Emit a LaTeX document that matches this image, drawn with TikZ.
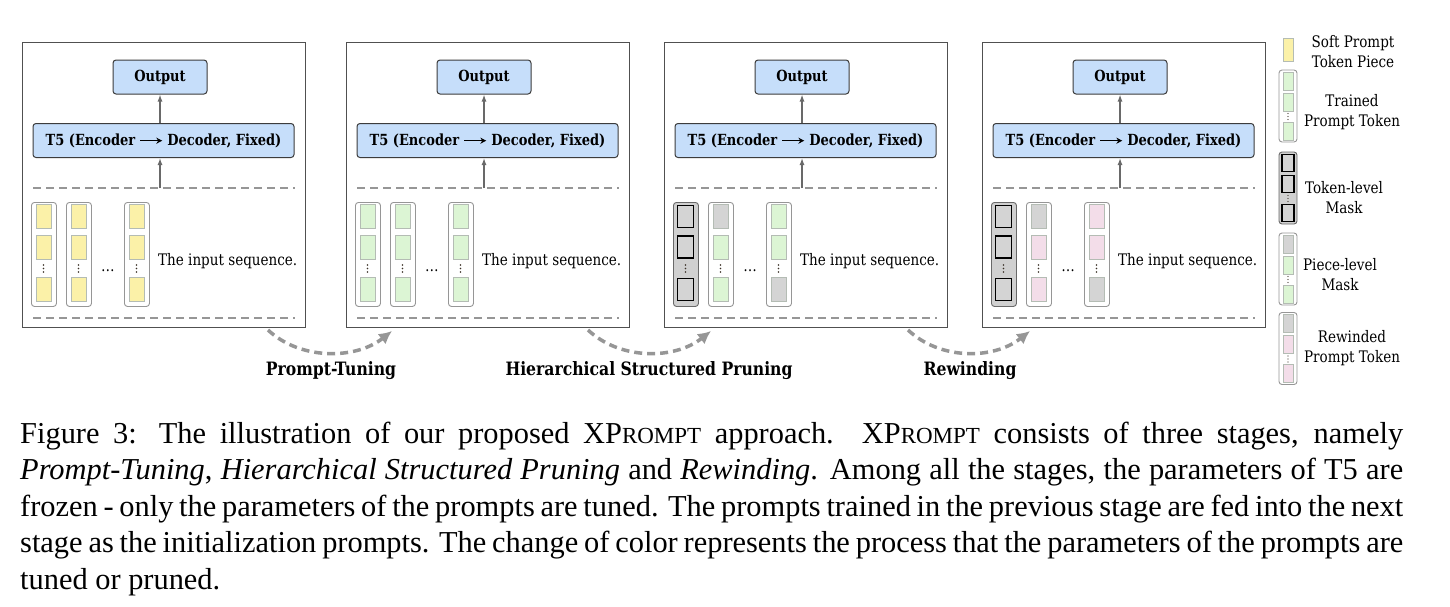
\documentclass[tikz,border=0pt]{standalone}
\usepackage{fontspec}
\setmainfont{DejaVu Serif}[FakeStretch=0.85]
\newfontfamily\capfont{Liberation Serif}
\usetikzlibrary{arrows.meta,calc}

\definecolor{panelline}{RGB}{80,80,80}
\definecolor{boxline}{RGB}{60,60,60}
\definecolor{blue1}{RGB}{198,222,250}
\definecolor{sepgray}{RGB}{150,150,150}
\definecolor{arrgray}{RGB}{105,105,105}
\definecolor{stagegray}{RGB}{150,150,150}
\definecolor{colline}{RGB}{150,150,150}
\definecolor{maskline}{RGB}{105,105,105}
\definecolor{maskfill}{RGB}{208,208,208}
\definecolor{pieceline}{RGB}{180,188,180}
\definecolor{softyellow}{RGB}{251,241,168}
\definecolor{softgreen}{RGB}{220,245,212}
\definecolor{softpink}{RGB}{243,221,233}
\definecolor{softgray}{RGB}{212,212,212}
\definecolor{dotcol}{RGB}{60,50,40}

\newcommand\encarrow{\tikz[baseline=-0.55ex]\draw[line width=1.1pt,-{Stealth[length=6pt,width=6pt]}] (0pt,0pt) -- (22pt,0pt);}
\newcommand\xprompt{XP{\fontsize{23}{36.5}\selectfont ROMPT}}

\tikzset{
  panelbox/.style={draw=panelline, line width=1.2pt, fill=white, inner sep=0pt},
  bluebox/.style={draw=boxline, fill=blue1, rounded corners=3pt, line width=1pt, inner sep=0pt,
    font=\bfseries\fontsize{15.3}{17}\selectfont},
  sepline/.style={draw=sepgray, line width=1.3pt, dash pattern=on 8pt off 5pt},
  uparrow/.style={draw=arrgray, line width=1.3pt, -{Latex[length=7pt,width=5pt]}},
  stagearrow/.style={draw=stagegray, line width=3.5pt, dash pattern=on 8pt off 5pt, -{Latex[length=13pt,width=13pt]}},
  tokcolbox/.style={draw=colline, fill=white, rounded corners=3pt, line width=0.9pt,
    minimum width=25pt, minimum height=104pt, inner sep=0pt},
  maskcolbox/.style={tokcolbox, draw=maskline, fill=maskfill},
  piece/.style={draw=pieceline, line width=0.8pt, minimum width=15pt, minimum height=24pt, inner sep=0pt},
  ypiece/.style={piece, fill=softyellow},
  gpiece/.style={piece, fill=softgreen},
  ppiece/.style={piece, fill=softpink},
  xpiece/.style={piece, fill=softgray},
  mpiece/.style={piece, fill=softgray, draw=black, line width=1.2pt, minimum width=16pt, minimum height=22pt},
  lsize/.style={minimum width=10pt, minimum height=18pt},
  lmsize/.style={minimum width=12pt, minimum height=17pt},
  lcol/.style={minimum width=18pt, minimum height=72pt},
  plaintext/.style={font=\fontsize{15.9}{20}\selectfont, inner sep=0pt},
  legtext/.style={font=\fontsize{15.9}{20}\selectfont, inner sep=0pt, align=center},
  stagelabel/.style={font=\bfseries\fontsize{18.4}{21}\selectfont, inner sep=0pt},
  vdot/.style={circle, fill=dotcol, inner sep=0pt, minimum size=1.6pt},
}

% token column: #1 left x, #2 name, #3 column style, #4-#6 piece styles
\newcommand\tokcol[6]{%
  \node[#3, anchor=north west] (#2) at (#1,202) {};
  \node[#4] (#2a) at ({#1+12.5},216.5) {};
  \node[#5] (#2b) at ({#1+12.5},247) {};
  \node[#6] (#2c) at ({#1+12.5},289.5) {};
  \node[vdot] (#2d1) at ({#1+12.5},265) {};
  \node[vdot] (#2d2) at ({#1+12.5},268.5) {};
  \node[vdot] (#2d3) at ({#1+12.5},272) {};
}
% legend column: #1 centre y, #2 name, #3 column style, #4-#6 piece styles
\newcommand\legcol[6]{%
  \node[#3, lcol] (#2) at (1288,#1) {};
  \node[#4] (#2a) at (1288,{#1-25}) {};
  \node[#5] (#2b) at (1288,{#1-4}) {};
  \node[#6] (#2c) at (1288,{#1+25}) {};
  \node[vdot, minimum size=1.3pt] (#2d1) at (1288,{#1+7.5}) {};
  \node[vdot, minimum size=1.3pt] (#2d2) at (1288,{#1+10.5}) {};
  \node[vdot, minimum size=1.3pt] (#2d3) at (1288,{#1+13.5}) {};
}
% stage panel: #1 left x, #2 name prefix
\newcommand\stagepanel[2]{%
  \node[panelbox, minimum width=283pt, minimum height=285pt, anchor=north west] (#2frame) at (#1,42) {};
  \node[bluebox, minimum width=94pt, minimum height=34pt] (#2out) at ({#1+138},77) {Output};
  \node[bluebox, minimum width=261pt, minimum height=34pt] (#2t5) at ({#1+141.5},140.5)
    {T5 (Encoder \encarrow{} Decoder, Fixed)};
  \coordinate (#2sl) at ({#1+11},188);
  \coordinate (#2sr) at ({#1+273},188);
  \coordinate (#2bl) at ({#1+11},318);
  \coordinate (#2br) at ({#1+273},318);
  \coordinate (#2in) at ({#1+138},188);
  \draw[sepline] (#2sl) -- (#2sr);
  \draw[sepline] (#2bl) -- (#2br);
  \draw[uparrow] (#2in) -- (#2in |- #2t5.south);
  \draw[uparrow] (#2out.south |- #2t5.north) -- (#2out.south);
  \node[plaintext, anchor=base west] (#2txt) at ({#1+136},265.5) {The input sequence.};
  \node[plaintext, anchor=base] (#2dots) at ({#1+86},271) {\dots};
}

\begin{document}
\begin{tikzpicture}[x=1pt,y=-1pt]
\useasboundingbox (0,0) rectangle (1450,606);

% stage 1: prompt-tuning (soft prompt)
\stagepanel{22}{s1}
\tokcol{31}{s1c1}{tokcolbox}{ypiece}{ypiece}{ypiece}
\tokcol{66}{s1c2}{tokcolbox}{ypiece}{ypiece}{ypiece}
\tokcol{124}{s1c3}{tokcolbox}{ypiece}{ypiece}{ypiece}

% stage 2: trained
\stagepanel{346}{s2}
\tokcol{355}{s2c1}{tokcolbox}{gpiece}{gpiece}{gpiece}
\tokcol{390}{s2c2}{tokcolbox}{gpiece}{gpiece}{gpiece}
\tokcol{448}{s2c3}{tokcolbox}{gpiece}{gpiece}{gpiece}

% stage 3: pruned
\stagepanel{664}{s3}
\tokcol{673}{s3c1}{maskcolbox}{mpiece}{mpiece}{mpiece}
\tokcol{708}{s3c2}{tokcolbox}{xpiece}{gpiece}{gpiece}
\tokcol{766}{s3c3}{tokcolbox}{gpiece}{gpiece}{xpiece}

% stage 4: rewound
\stagepanel{982}{s4}
\tokcol{991}{s4c1}{maskcolbox}{mpiece}{mpiece}{mpiece}
\tokcol{1026}{s4c2}{tokcolbox}{xpiece}{ppiece}{ppiece}
\tokcol{1084}{s4c3}{tokcolbox}{ppiece}{ppiece}{xpiece}

% stage transitions
\coordinate (a1s) at (268,330); \coordinate (a1e) at (392,331);
\coordinate (a2s) at (588,330); \coordinate (a2e) at (711,331);
\coordinate (a3s) at (908,330); \coordinate (a3e) at (1030,331);
\draw[stagearrow] (a1s) .. controls (300,360) and (355,360) .. (a1e);
\draw[stagearrow] (a2s) .. controls (620,360) and (674,360) .. (a2e);
\draw[stagearrow] (a3s) .. controls (940,360) and (993,360) .. (a3e);
\node[stagelabel, anchor=base] (l1) at (331,375) {Prompt-Tuning};
\node[stagelabel, anchor=base] (l2) at (649,375) {Hierarchical Structured Pruning};
\node[stagelabel, anchor=base] (l3) at (970,375) {Rewinding};

% legend
\node[ypiece, minimum width=10pt, minimum height=23pt] (lg1) at (1288,49.5) {};
\node[legtext] (lg1t) at (1353,52) {Soft Prompt\\Token Piece};
\legcol{106}{lg2}{tokcolbox}{gpiece,lsize}{gpiece,lsize}{gpiece,lsize}
\node[legtext] (lg2t) at (1352,112) {Trained\\Prompt Token};
\legcol{188}{lg3}{maskcolbox}{mpiece,lmsize}{mpiece,lmsize}{mpiece,lmsize}
\node[legtext] (lg3t) at (1344,198) {Token-level\\Mask};
\legcol{269}{lg4}{tokcolbox}{xpiece,lsize}{gpiece,lsize}{gpiece,lsize}
\node[legtext] (lg4t) at (1340,275) {Piece-level\\Mask};
\legcol{348.5}{lg5}{tokcolbox}{xpiece,lsize}{ppiece,lsize}{ppiece,lsize}
\node[legtext] (lg5t) at (1352,348) {Rewinded\\Prompt Token};

% caption
\node[anchor=base west, inner sep=0pt] (caption) at (20,443) {\parbox[t]{1383pt}{\capfont\fontsize{30.4}{36.5}\selectfont
Figure 3: The illustration of our proposed \xprompt{} approach. \xprompt{} consists of three stages, namely\linebreak
\textit{Prompt-Tuning}, \textit{Hierarchical Structured Pruning} and \textit{Rewinding}. Among all the stages, the parameters of T5 are\linebreak
frozen - only the parameters of the prompts are tuned. The prompts trained in the previous stage are fed into the next\linebreak
stage as the initialization prompts. The change of color represents the process that the parameters of the prompts are\linebreak
tuned or pruned.}};
\end{tikzpicture}
\end{document}
